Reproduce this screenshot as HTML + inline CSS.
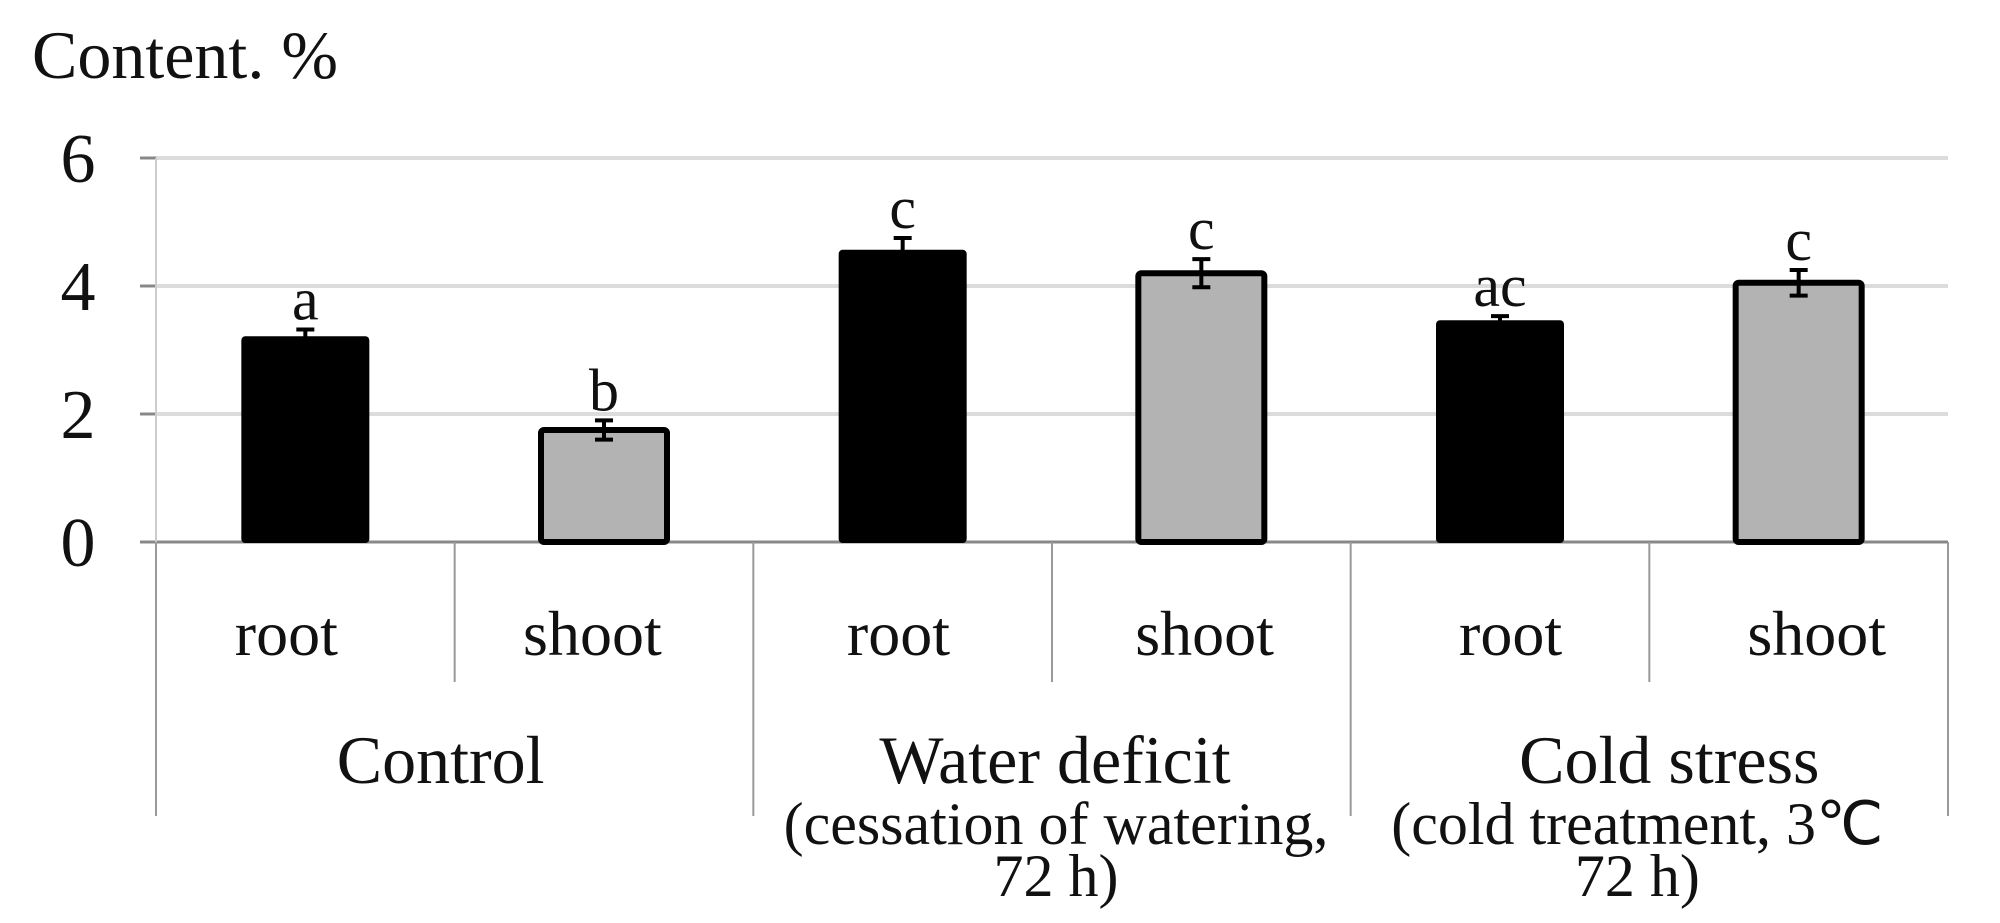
<!DOCTYPE html>
<html><head><meta charset="utf-8"><style>
html,body{margin:0;padding:0;background:#fff;}
svg{display:block;font-family:"Liberation Serif",serif;}
</style></head><body>
<svg id="chart" width="2000" height="923" viewBox="0 0 2000 923">
<text x="32" y="78" font-size="68" fill="#111">Content. %</text>
<g id="grid"></g><g id="bars"></g><g id="labels"></g>
</svg>
<script>
const categories=["root","shoot","root","shoot","root","shoot"];
const values=[3.2,1.75,4.55,4.2,3.45,4.05];
const errors=[0.12,0.15,0.2,0.22,0.08,0.2];
const letters=["a","b","c","c","ac","c"];
const yTicks=[0,2,4,6];
const groups=["Control","Water deficit","Cold stress"];
const groupSub=[[],["(cessation of watering,","72 h)"],["(cold treatment, 3℃","72 h)"]];
const NS="http://www.w3.org/2000/svg";
const x0=156,x1=1948,y0=542,yMax=6,yTop=158;
const bw=(x1-x0)/categories.length;
const y=v=>y0-(v/yMax)*(y0-yTop);
const xc=i=>x0+bw*(i+0.5);
function mk(tag,parent,attrs){const e=document.createElementNS(NS,tag);for(const k in attrs)e.setAttribute(k,attrs[k]);document.getElementById(parent).appendChild(e);return e;}
yTicks.forEach(t=>{
  if(t>0){const g=mk("line","grid",{x1:x0,x2:x1,y1:y(t),y2:y(t),stroke:"#dcdcdc","stroke-width":4});
  
  }
  const tk=mk("line","grid",{x1:140,x2:x0,y1:y(t),y2:y(t),stroke:"#888","stroke-width":3});
  
  
  const l=mk("text","labels",{x:78,y:y(t)+24,"font-size":70,"text-anchor":"middle",fill:"#111"});
  l.textContent=t;
  
  
});
const ax=mk("line","grid",{x1:x0,x2:x1,y1:y0,y2:y0,stroke:"#888","stroke-width":3});


const ya=mk("line","grid",{x1:x0,x2:x0,y1:yTop,y2:y0,stroke:"#ccc","stroke-width":2});


for(let i=0;i<=categories.length;i++){
  const sx=x0+bw*i;
  const s=mk("line","grid",{x1:sx,x2:sx,y1:y0,y2:(i%2===0?816:682),stroke:"#999","stroke-width":2});
  
  
}
const barW=126;
values.forEach((v,i)=>{
  const root=i%2===0;
  const b=mk("rect","bars",{x:xc(i)-barW/2,y:y(v),width:barW,height:y0-y(v),fill:root?"#000":"#b3b3b3",stroke:"#000","stroke-width":root?2:6,rx:3});
  
  
  const hi=y(v+errors[i]),lo=y(v-errors[i]);
  const e=mk("path","bars",{d:`M${xc(i)} ${hi}V${lo}M${xc(i)-9} ${hi}H${xc(i)+9}M${xc(i)-9} ${lo}H${xc(i)+9}`,stroke:"#000","stroke-width":4,fill:"none"});
  
  
  const lt=mk("text","labels",{x:xc(i),y:hi-10,"font-size":60,"text-anchor":"middle",fill:"#111"});
  lt.textContent=letters[i];
  
  
  const cl=mk("text","labels",{x:xc(i)-19+7.4*i,y:655,"font-size":64,"text-anchor":"middle",fill:"#111"});
  cl.textContent=categories[i];
  
  
});
groups.forEach((g,j)=>{
  const cx=x0+bw*(2*j+1);
  const t=mk("text","labels",{x:cx-14+17*j,y:783,"font-size":68,"text-anchor":"middle",fill:"#111"});
  t.textContent=g;
  
  
  groupSub[j].forEach((s,k)=>{
    const st=mk("text","labels",{x:cx+(j===2?-12:4),y:844+k*52,"font-size":60,"text-anchor":"middle",fill:"#111"});
    st.textContent=s;
    
    
  });
});
</script>
</body></html>
